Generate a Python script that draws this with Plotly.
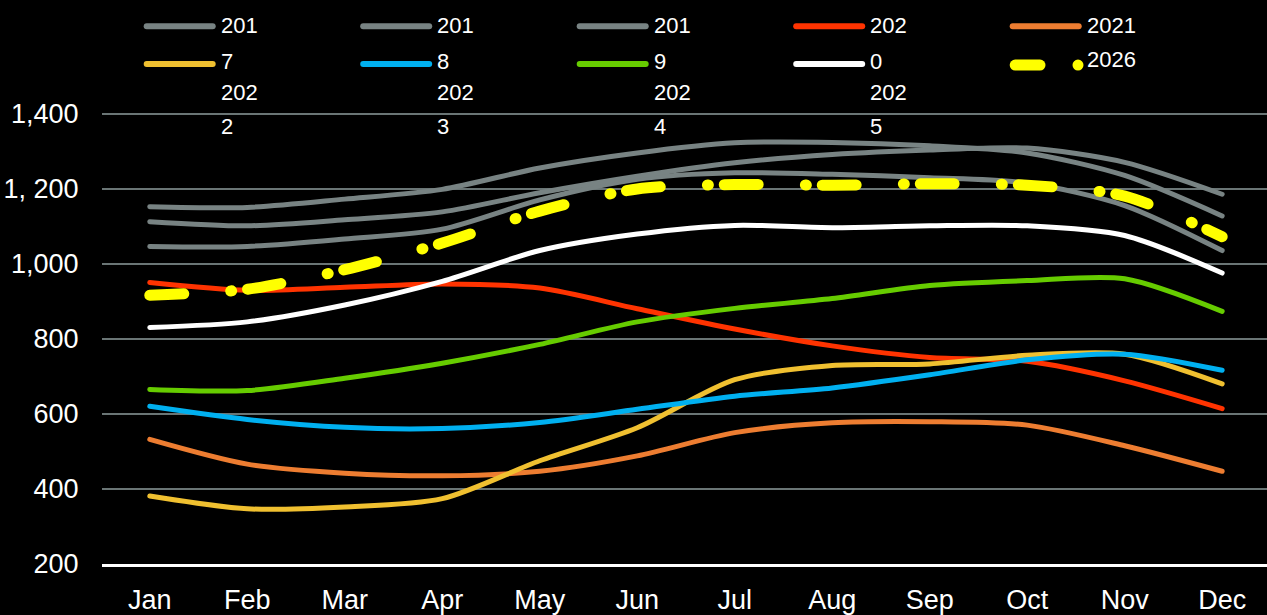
import plotly.graph_objects as go

months = ["Jan", "Feb", "Mar", "Apr", "May", "Jun",
          "Jul", "Aug", "Sep", "Oct", "Nov", "Dec"]

years = ["2017", "2018", "2019", "2020", "2021",
         "2022", "2023", "2024", "2025", "2026"]

y2017 = [1046, 1046, 1066, 1092, 1170, 1225, 1242, 1238, 1229, 1215, 1155, 1035]
y2018 = [1112, 1101, 1117, 1138, 1189, 1233, 1269, 1291, 1303, 1308, 1270, 1185]
y2019 = [1152, 1150, 1172, 1198, 1255, 1295, 1322, 1323, 1314, 1295, 1235, 1127]
y2020 = [950, 929, 937, 946, 935, 880, 826, 781, 750, 740, 688, 614]
y2021 = [532, 466, 442, 435, 447, 488, 550, 576, 579, 570, 515, 447]
y2022 = [381, 347, 352, 374, 475, 563, 691, 729, 733, 756, 759, 680]
y2023 = [620, 585, 564, 561, 577, 612, 647, 669, 704, 744, 759, 716]
y2024 = [665, 662, 695, 735, 785, 845, 881, 907, 942, 955, 960, 873]
y2025 = [830, 845, 890, 953, 1035, 1079, 1102, 1096, 1101, 1101, 1075, 975]
y2026 = [916, 932, 984, 1055, 1140, 1199, 1211, 1209, 1213, 1209, 1180, 1072]

y_tickvals = [200, 400, 600, 800, 1000, 1200, 1400]
y_ticktext = ["200", "400", "600", "800", "1,000", "1, 200", "1,400"]

GRAY = "#788383"
colors = [GRAY, GRAY, GRAY, "#FF3300", "#ED7D31",
          "#F0C030", "#00B0F0", "#66CC00", "#FFFFFF", "#FFFF00"]
series = [y2017, y2018, y2019, y2020, y2021,
          y2022, y2023, y2024, y2025, y2026]

FONT = "Arial, 'Liberation Sans', sans-serif"

# page geometry (px)
W, H = 1267, 615
M_L, M_R, M_T, M_B = 102, 0, 76, 48


def px_x(px):
    return (px - M_L) / (W - M_L - M_R)


def px_y(py):
    return (H - M_B - py) / (H - M_T - M_B)


fig = go.Figure()

for name, vals, color in zip(years, series, colors):
    is_2026 = name == "2026"
    fig.add_trace(
        go.Scatter(
            x=months,
            y=vals,
            mode="lines",
            name=name,
            line=dict(
                color=color,
                width=11 if is_2026 else 5,
                shape="spline",
                smoothing=0.8,
                dash="34px,47px,1px,16px" if is_2026 else "solid"
            ),
            showlegend=False,
            hoverinfo="skip"
        )
    )

# hand-made legend: 2 rows x 5 columns, labels wrapped like the original
shapes = []
annotations = []
col_x = [143.7, 360.2, 576.7, 793.2, 1009.7]
row_y = [26, 64]
for i, (name, color) in enumerate(zip(years, colors)):
    row, col = divmod(i, 5)
    x0 = col_x[col]
    y = row_y[row]
    if name == "2026":
        shapes.append(dict(type="line", xref="paper", yref="paper",
                           x0=px_x(x0 + 5.5), x1=px_x(1040), y0=px_y(65), y1=px_y(65),
                           line=dict(color=color, width=11)))
        shapes.append(dict(type="circle", xref="paper", yref="paper",
                           x0=px_x(1072.5), x1=px_x(1083.5), y0=px_y(59.5), y1=px_y(70.5),
                           fillcolor=color, line=dict(width=0)))
    else:
        shapes.append(dict(type="line", xref="paper", yref="paper",
                           x0=px_x(x0 + 3), x1=px_x(x0 + 69), y0=px_y(y), y1=px_y(y),
                           line=dict(color=color, width=6)))

    tx = x0 + 75
    if col == 4:
        lines = [(name, 25 if row == 0 else 59)]
    elif row == 0:
        lines = [(name[:3], 25), (name[3:], 61)]
    else:
        lines = [(name[:3], 92.5), (name[3:], 126.7)]
    for text, ty in lines:
        annotations.append(dict(
            x=px_x(tx), y=px_y(ty), xref="paper", yref="paper",
            text=text, showarrow=False, xanchor="left", yanchor="middle",
            font=dict(family=FONT, size=22, color="white")
        ))

fig.update_layout(
    width=W,
    height=H,
    margin=dict(l=M_L, r=M_R, t=M_T, b=M_B, pad=0),
    paper_bgcolor="black",
    plot_bgcolor="black",
    font=dict(family=FONT, color="white", size=27),
    shapes=shapes,
    annotations=annotations,
    xaxis=dict(
        type="category",
        range=[-0.49, 11.46],
        showgrid=False,
        showline=True,
        linecolor="white",
        linewidth=3,
        ticks="outside",
        ticklen=10,
        tickcolor="rgba(0,0,0,0)",
        tickfont=dict(size=27, color="white"),
        zeroline=False
    ),
    yaxis=dict(
        range=[200, 1500],
        tickvals=y_tickvals,
        ticktext=y_ticktext,
        showgrid=True,
        gridcolor="#6A7575",
        gridwidth=2,
        zeroline=False,
        ticks="outside",
        ticklen=17,
        tickcolor="rgba(0,0,0,0)",
        tickfont=dict(size=27, color="white")
    )
)

css = ("var s=document.createElement('style');"
       "s.textContent='body{margin:0;overflow:hidden}"
       ".scatterlayer .js-line,.shapelayer path{stroke-linecap:round}';"
       "document.head.appendChild(s);")

fig.write_html("out.html", post_script=css, config={"displayModeBar": False})
